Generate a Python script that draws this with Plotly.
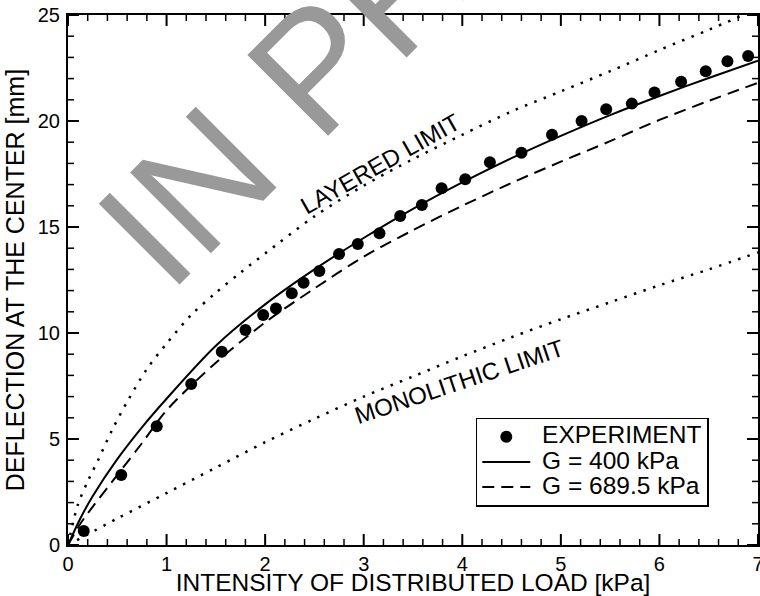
import plotly.graph_objects as go

# Experimental deflection at the plate centre
exp_load = [0.16, 0.54, 0.90, 1.25, 1.56, 1.80, 1.98, 2.11, 2.27, 2.39, 2.55, 2.75, 2.94,
            3.16, 3.37, 3.59, 3.79, 4.03, 4.28, 4.60, 4.91, 5.21, 5.46, 5.72, 5.95, 6.22,
            6.47, 6.69, 6.90]
exp_defl = [0.66, 3.30, 5.60, 7.59, 9.12, 10.14, 10.85, 11.16, 11.87, 12.37, 12.92, 13.73,
            14.20, 14.70, 15.52, 16.04, 16.83, 17.25, 18.05, 18.50, 19.35, 20.00, 20.55,
            20.82, 21.35, 21.85, 22.35, 22.82, 23.07]

# Model, G = 400 kPa
g400_load = [0, 0.125, 0.25, 0.5, 0.75, 1.0, 1.5, 2.0, 2.5, 3.0, 3.5, 4.0, 4.5, 5.0, 5.5,
             6.0, 6.5, 7.0]
g400_defl = [0, 1.25, 2.3, 4.05, 5.55, 6.9, 9.4, 11.35, 13.0, 14.48, 15.85, 17.1, 18.25,
             19.3, 20.28, 21.18, 22.03, 22.85]

# Model, G = 689.5 kPa
g689_load = [0, 0.125, 0.25, 0.5, 0.75, 1.0, 1.5, 2.0, 2.5, 3.0, 3.5, 4.0, 4.5, 5.0, 5.5,
             6.0, 6.5, 7.0]
g689_defl = [0, 1.0, 1.8, 3.3, 4.8, 6.35, 8.6, 10.5, 12.1, 13.6, 14.85, 16.0, 17.08, 18.08,
             19.05, 20.05, 20.95, 21.8]

# Layered limit
lay_load = [0, 0.1, 0.2, 0.3, 0.45, 0.6, 0.8, 1.0, 1.25, 1.5, 1.75, 2.0, 2.5, 3.0, 3.5,
            4.0, 4.5, 5.0, 5.5, 6.0, 6.5, 6.85]
lay_defl = [0, 1.9, 3.0, 3.95, 5.45, 6.75, 8.3, 9.5, 10.85, 11.9, 12.85, 13.75, 15.5, 16.95,
            18.2, 19.35, 20.45, 21.4, 22.35, 23.35, 24.3, 25.0]

# Monolithic limit
mono_load = [0, 0.5, 1.0, 1.5, 2.0, 2.5, 3.0, 3.5, 4.0, 4.5, 5.0, 5.5, 6.0, 6.5, 7.0]
mono_defl = [0, 1.25, 2.45, 3.65, 4.85, 5.95, 7.0, 7.95, 8.9, 9.8, 10.65, 11.45, 12.25,
             13.0, 13.8]

# Axis ranges and tick positions
X_RANGE = [0, 7]
Y_RANGE = [0, 25]
X_MAJOR = [0, 1, 2, 3, 4, 5, 6, 7]
Y_MAJOR = [0, 5, 10, 15, 20, 25]
X_MINOR = [round(i * 0.2, 1) for i in range(36) if i % 5]
Y_MINOR = [i for i in range(26) if i % 5]

FONT = "Liberation Sans, Arial, Helvetica, sans-serif"
DOTS = "2.5px,7.5px"
DASH = "12px,7px"
SMOOTH = 0.9
MAJOR_LEN, MINOR_LEN = 11, 6
MAJOR_W, MINOR_W = 2, 1.5


def legend_label(text):
    return '<span style="font-size:24.5px">&nbsp;' + text + '</span>'


fig = go.Figure()

# Watermark text first so the data annotations sit on top of it
fig.add_annotation(x=0.484, y=1.066, xref="paper", yref="paper", text="IN PRESS",
                   textangle=-45, showarrow=False, xanchor="center", yanchor="middle",
                   font=dict(family=FONT, size=166, color="#999999"))

fig.add_trace(go.Scatter(x=lay_load, y=lay_defl, mode="lines", showlegend=False,
                         line=dict(color="black", width=2.5, dash=DOTS, shape="spline",
                                   smoothing=SMOOTH)))
fig.add_trace(go.Scatter(x=mono_load, y=mono_defl, mode="lines", showlegend=False,
                         line=dict(color="black", width=2.5, dash=DOTS, shape="spline",
                                   smoothing=SMOOTH)))
fig.add_trace(go.Scatter(x=exp_load, y=exp_defl, mode="markers",
                         name=legend_label("EXPERIMENT"),
                         marker=dict(color="black", size=12)))
fig.add_trace(go.Scatter(x=g400_load, y=g400_defl, mode="lines",
                         name=legend_label("G = 400 kPa"),
                         line=dict(color="black", width=2, shape="spline",
                                   smoothing=SMOOTH)))
fig.add_trace(go.Scatter(x=g689_load, y=g689_defl, mode="lines",
                         name=legend_label("G = 689.5 kPa"),
                         line=dict(color="black", width=2, dash=DASH, shape="spline",
                                   smoothing=SMOOTH)))

# Curve labels
fig.add_annotation(x=3.17, y=18.0, xref="x", yref="y", text="LAYERED LIMIT",
                   textangle=-29.5, showarrow=False,
                   font=dict(family=FONT, size=24, color="black"))
fig.add_annotation(x=3.97, y=7.70, xref="x", yref="y", text="MONOLITHIC LIMIT",
                   textangle=-18.5, showarrow=False,
                   font=dict(family=FONT, size=24, color="black"))


# Inward tick marks on all four sides of the frame, sized in pixels
def x_tick(value, length, width, edge):
    # edge 0 = bottom (tick points up), edge 1 = top (tick points down)
    sign = 1 if edge == 0 else -1
    fig.add_shape(type="line", xref="x", yref="paper", x0=value, x1=value,
                  ysizemode="pixel", yanchor=edge, y0=0, y1=sign * length,
                  line=dict(color="black", width=width), layer="above")


def y_tick(value, length, width, edge):
    # edge 0 = left (tick points right), edge 1 = right (tick points left)
    sign = 1 if edge == 0 else -1
    fig.add_shape(type="line", xref="paper", yref="y", y0=value, y1=value,
                  xsizemode="pixel", xanchor=edge, x0=0, x1=sign * length,
                  line=dict(color="black", width=width), layer="above")


for edge in (0, 1):
    for v in X_MAJOR:
        x_tick(v, MAJOR_LEN, MAJOR_W, edge)
    for v in X_MINOR:
        x_tick(v, MINOR_LEN, MINOR_W, edge)
    for v in Y_MAJOR:
        y_tick(v, MAJOR_LEN, MAJOR_W, edge)
    for v in Y_MINOR:
        y_tick(v, MINOR_LEN, MINOR_W, edge)

main_axis = dict(showline=True, linecolor="black", linewidth=2, mirror=True,
                 ticks="", showgrid=False, zeroline=False, ticklabeloverflow="allow",
                 tickfont=dict(family=FONT, size=20, color="black"))

fig.update_layout(
    width=760, height=596,
    margin=dict(l=68, r=2, t=15, b=51, autoexpand=False),
    paper_bgcolor="white", plot_bgcolor="white",
    font=dict(family=FONT, color="black"),
    xaxis=dict(range=X_RANGE, tickvals=X_MAJOR,
               title=dict(text="INTENSITY OF DISTRIBUTED LOAD [kPa]", standoff=6,
                          font=dict(family=FONT, size=24.5, color="black")),
               **main_axis),
    yaxis=dict(range=Y_RANGE, tickvals=Y_MAJOR, ticklabelstandoff=2,
               title=dict(text="DEFLECTION AT THE CENTER [mm]", standoff=6,
                          font=dict(family=FONT, size=25, color="black")),
               **main_axis),
    legend=dict(x=0.591, y=0.240, xanchor="left", yanchor="top",
                bgcolor="white", bordercolor="black", borderwidth=1.5,
                font=dict(family=FONT, size=17, color="black"),
                itemwidth=48, tracegroupgap=0),
)

fig.write_html("out.html")
